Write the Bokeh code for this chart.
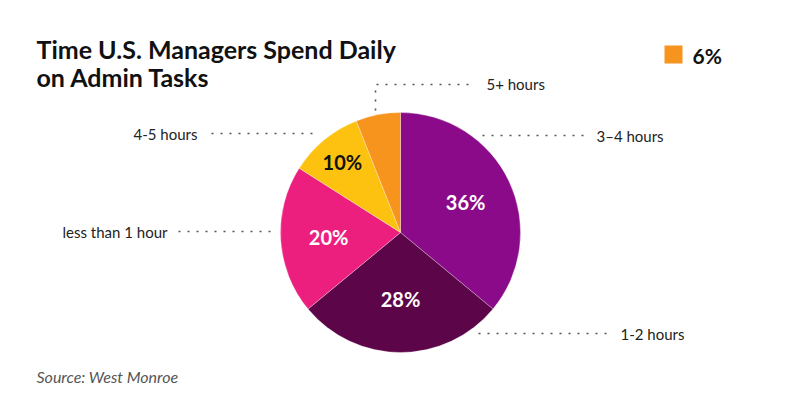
import math
from bokeh.plotting import figure
from bokeh.models import Range1d, ColumnDataSource
from bokeh.core.properties import value
from bokeh.embed import file_html
from bokeh.resources import INLINE

# ---- data ----
categories = ["3–4 hours", "1-2 hours", "less than 1 hour", "4-5 hours", "5+ hours"]
values = [36, 28, 20, 10, 6]
pct_labels = ["36%", "28%", "20%", "10%", ""]
legend_label = "6%"
title_lines = ["Time U.S. Managers Spend Daily", "on Admin Tasks"]
source_text = "Source: West Monroe"

# ---- style ----
colors = ["#8B0A8A", "#5C0649", "#EC1E7E", "#FDC20F", "#F7941D"]
pct_colors = ["white", "white", "white", "#111111", "white"]
label_r = [0.60, 0.55, 0.60, 0.76, 0.6]
FONT = "Lato"

W, H = 784, 392
p = figure(width=W, height=H, output_backend="svg", toolbar_location=None,
           x_range=Range1d(0, W), y_range=Range1d(0, H), min_border=0)
p.axis.visible = False
p.grid.visible = False
p.outline_line_color = None
p.background_fill_color = "white"
p.border_fill_color = "white"


def sx(x):  # reference pixel x -> data x
    return x


def sy(y):  # reference pixel y -> data y
    return H - y


# ---- pie ----
cx, cy, R = sx(400), sy(232), 120
total = sum(values)
starts, ends, mids = [], [], []
cum = 0
for v in values:
    a0 = math.pi / 2 - 2 * math.pi * (cum + v) / total
    a1 = math.pi / 2 - 2 * math.pi * cum / total
    starts.append(a0)
    ends.append(a1)
    mids.append((a0 + a1) / 2)
    cum += v

src = ColumnDataSource(dict(start=starts, end=ends, color=colors, cat=categories))
p.wedge(x=cx, y=cy, radius=R, radius_units="screen", start_angle="start", end_angle="end",
        fill_color="color", line_color="white", line_width=0.6, line_alpha=0.5, source=src)

lx = [cx + R * r * math.cos(m) for r, m in zip(label_r, mids)]
ly = [cy + R * r * math.sin(m) for r, m in zip(label_r, mids)]
p.text(x=lx, y=ly, text=pct_labels, text_color=pct_colors, text_font=value(FONT),
       text_font_style="bold", text_font_size="20px", text_align="center",
       text_baseline="middle")

# ---- leader lines & category labels ----
dot = dict(line_color="#555555", line_width=1.6, line_dash="2 7")
# 3–4 hours
p.line([sx(482), sx(584)], [sy(135), sy(135)], **dot)
# 1-2 hours
p.line([sx(478), sx(608)], [sy(333), sy(333)], **dot)
# less than 1 hour
p.line([sx(178), sx(272)], [sy(231), sy(231)], **dot)
# 4-5 hours
p.line([sx(211), sx(313)], [sy(133), sy(133)], **dot)
# 5+ hours
p.line([sx(375), sx(375), sx(474)], [sy(110), sy(84), sy(84)], **dot)

lab_x = [sx(596), sx(620), sx(167), sx(197), sx(486)]
lab_y = [sy(135), sy(333), sy(231), sy(133), sy(83)]
lab_align = ["left", "left", "right", "right", "left"]
p.text(x=lab_x, y=lab_y, text=categories, text_align=lab_align, text_baseline="middle",
       text_font=value(FONT), text_font_size="15px", text_color="#222222")

# ---- legend ----
p.quad(left=sx(664), right=sx(682), top=sy(45), bottom=sy(63),
       fill_color=colors[4], line_color=None)
p.text(x=[sx(692)], y=[sy(55)], text=[legend_label], text_font=value(FONT),
       text_font_style="bold", text_font_size="21px", text_baseline="middle",
       text_color="#111111")

# ---- title ----
p.text(x=[sx(36), sx(36)], y=[sy(48), sy(76)], text=title_lines, text_font=value(FONT),
       text_font_style="bold", text_font_size="25px", text_baseline="alphabetic",
       text_color="#111111")

# ---- source ----
p.text(x=[sx(36)], y=[sy(376)], text=[source_text], text_font=value(FONT),
       text_font_style="italic", text_font_size="16px", text_baseline="middle",
       text_color="#555555")

open("out.html", "w").write(file_html(p, INLINE))
